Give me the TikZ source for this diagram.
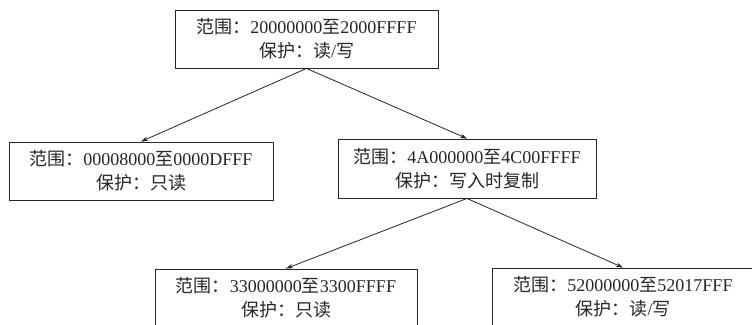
\documentclass[tikz,border=0pt]{standalone}
\usepackage{fontspec}
\setmainfont{Liberation Serif}
\newfontfamily\cjk{Noto Sans CJK SC}
\usetikzlibrary{arrows.meta}
\tikzset{
  membox/.style={draw=black!85, line width=0.9pt, inner sep=0pt, align=center,
    font=\fontsize{18}{24}\selectfont, text=black!85},
  link/.style={draw=black!85, line width=0.8pt, -{Stealth[length=7pt,width=4.5pt]}}
}
\begin{document}
\begin{tikzpicture}[x=1pt,y=-1pt]
\clip (0,0) rectangle (752,324);
\fill[white] (0,0) rectangle (752,324);
\node[membox, minimum width=263pt, minimum height=58pt] (top) at (306.5,39)
  {{\cjk 范围：}20000000{\cjk 至}2000FFFF\\{\cjk 保护：读}/{\cjk 写}};
\node[membox, minimum width=264pt, minimum height=58pt] (left) at (141,171)
  {{\cjk 范围：}00008000{\cjk 至}0000DFFF\\{\cjk 保护：只读}};
\node[membox, minimum width=258pt, minimum height=59pt] (mid) at (467,168.5)
  {{\cjk 范围：}4A000000{\cjk 至}4C00FFFF\\{\cjk 保护：写入时复制}};
\node[membox, minimum width=262pt, minimum height=58pt] (bl) at (286,298)
  {{\cjk 范围：}33000000{\cjk 至}3300FFFF\\{\cjk 保护：只读}};
\node[membox, minimum width=262pt, minimum height=58pt] (br) at (623,297)
  {{\cjk 范围：}52000000{\cjk 至}52017FFF\\{\cjk 保护：读}/{\cjk 写}};
\draw[link] (top.south) -- (left.north);
\draw[link] (top.south) -- (mid.north);
\draw[link] (mid.south) -- (bl.north);
\draw[link] (mid.south) -- (br.north);
\end{tikzpicture}
\end{document}
